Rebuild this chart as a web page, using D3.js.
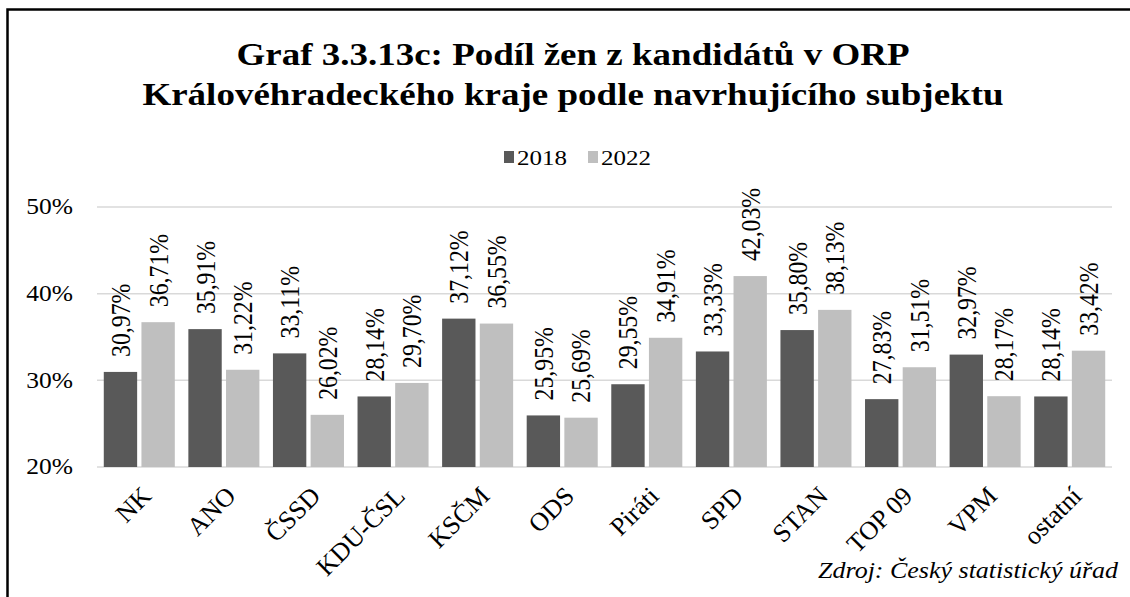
<!DOCTYPE html>
<html>
<head>
<meta charset="utf-8">
<script src="https://cdn.jsdelivr.net/npm/d3@7"></script>
<style>
  body { margin: 0; background: #fff; }
</style>
</head>
<body>
<div id="chart"></div>
<script>
// data
var categories = ["NK", "ANO", "ČSSD", "KDU-ČSL", "KSČM", "ODS", "Piráti", "SPD", "STAN", "TOP 09", "VPM", "ostatní"];
var years = ["2018", "2022"];
var values2018 = [30.97, 35.91, 33.11, 28.14, 37.12, 25.95, 29.55, 33.33, 35.80, 27.83, 32.97, 28.14];
var values2022 = [36.71, 31.22, 26.02, 29.70, 36.55, 25.69, 34.91, 42.03, 38.13, 31.51, 28.17, 33.42];
var yTicks = [20, 30, 40, 50];

var W = 1130, H = 597;
var serif = "'Liberation Serif'";
var colors = { "2018": "#595959", "2022": "#bfbfbf" };
// the original text looks a bit squashed vertically
var k = 0.88;
function place(x, y, rot) {
  return "translate(" + x + "," + y + ") scale(1," + k + ")" + (rot ? " rotate(" + rot + ")" : "");
}

var svg = d3.select("#chart").append("svg")
  .attr("width", W)
  .attr("height", H);

// outer frame (only left and top visible in the picture)
svg.append("rect")
  .attr("x", 7.5).attr("y", 9.5)
  .attr("width", W + 20).attr("height", H + 20)
  .attr("fill", "none")
  .attr("stroke", "#000")
  .attr("stroke-width", 2.5);

// title
var titleLines = ["Graf 3.3.13c: Podíl žen z kandidátů v ORP", "Královéhradeckého kraje podle navrhujícího subjektu"];
svg.append("g").selectAll("text")
  .data(titleLines)
  .enter().append("text")
  .attr("transform", function(d, i) { return place(573, 65 + i * 40); })
  .attr("text-anchor", "middle")
  .style("font-family", serif)
  .style("font-size", "37px")
  .style("font-weight", "bold")
  .text(function(d) { return d; });

// scales
var x = d3.scaleBand().domain(categories).range([97, 1112]);
var x1 = d3.scaleBand().domain(years).range([0, x.bandwidth()]).paddingInner(0.114).paddingOuter(0.18);
var y = d3.scaleLinear().domain([20, 50]).range([467, 207]);

// grid lines
svg.append("g").selectAll("line")
  .data(yTicks)
  .enter().append("line")
  .attr("x1", 97).attr("x2", 1112)
  .attr("y1", function(d) { return y(d); })
  .attr("y2", function(d) { return y(d); })
  .attr("stroke", "#d9d9d9")
  .attr("stroke-width", 1.5);

// y axis labels
svg.append("g").selectAll("text")
  .data(yTicks)
  .enter().append("text")
  .attr("transform", function(d) { return place(73, y(d)); })
  .attr("dy", "0.33em")
  .attr("text-anchor", "end")
  .style("font-family", serif)
  .style("font-size", "25.5px")
  .text(function(d) { return d + "%"; });

// rows for bars
var rows = categories.map(function(c, i) {
  return { cat: c, vals: [{ year: "2018", v: values2018[i] }, { year: "2022", v: values2022[i] }] };
});

var groups = svg.append("g").selectAll("g")
  .data(rows)
  .enter().append("g")
  .attr("transform", function(d) { return "translate(" + x(d.cat) + ",0)"; });

groups.selectAll("rect")
  .data(function(d) { return d.vals; })
  .enter().append("rect")
  .attr("x", function(d) { return x1(d.year); })
  .attr("y", function(d) { return y(d.v); })
  .attr("width", x1.bandwidth())
  .attr("height", function(d) { return y(20) - y(d.v); })
  .attr("fill", function(d) { return colors[d.year]; });

// value labels, rotated
groups.selectAll("text.val")
  .data(function(d) { return d.vals; })
  .enter().append("text")
  .attr("class", "val")
  .attr("transform", function(d) {
    return place(x1(d.year) + x1.bandwidth() / 2, y(d.v) - 15, -90);
  })
  .attr("dy", "0.35em")
  .style("font-family", serif)
  .style("font-size", "27px")
  .text(function(d) { return d.v.toFixed(2).replace(".", ",") + "%"; });

// category labels at -45 degrees
svg.append("g").selectAll("text")
  .data(categories)
  .enter().append("text")
  .attr("transform", function(d) {
    return "translate(" + (x(d) + x.bandwidth() / 2 + 1) + ",485) rotate(-45)";
  })
  .attr("text-anchor", "end")
  .attr("dy", "0.68em")
  .style("font-family", serif)
  .style("font-size", "26px")
  .text(function(d) { return d; });

// legend
var legend = svg.append("g");
var legendItems = [{ y: "2018", x: 504 }, { y: "2022", x: 588 }];
legend.selectAll("rect")
  .data(legendItems)
  .enter().append("rect")
  .attr("x", function(d) { return d.x; })
  .attr("y", 151)
  .attr("width", 10).attr("height", 12)
  .attr("fill", function(d) { return colors[d.y]; });
legend.selectAll("text")
  .data(legendItems)
  .enter().append("text")
  .attr("transform", function(d) { return place(d.x + 13, 165); })
  .style("font-family", serif)
  .style("font-size", "25px")
  .text(function(d) { return d.y; });

// source
svg.append("text")
  .attr("transform", place(1118, 578))
  .attr("text-anchor", "end")
  .style("font-family", serif)
  .style("font-size", "26px")
  .style("font-style", "italic")
  .text("Zdroj: Český statistický úřad");
</script>
</body>
</html>
